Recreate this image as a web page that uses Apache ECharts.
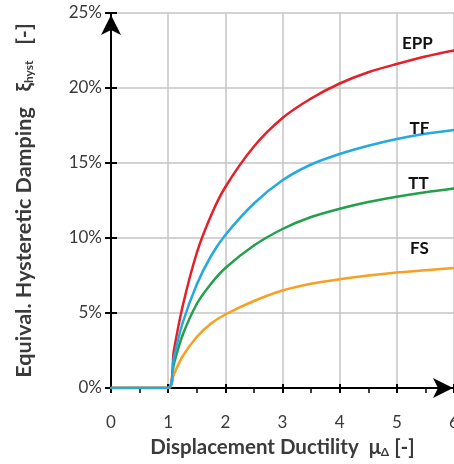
<!DOCTYPE html>
<html>
<head>
<meta charset="utf-8">
<script src="https://cdn.jsdelivr.net/npm/echarts@6/dist/echarts.min.js"></script>
<style>
  html, body { margin: 0; padding: 0; background: #fff; }
  #chart { width: 454px; height: 464px; }
</style>
</head>
<body>
<div id="chart"></div>
<script>
// Displacement ductility (x) and equivalent hysteretic damping in % (y)
const ductility = [0, 1, 1.1, 1.25, 1.5, 1.75, 2, 2.5, 3, 3.5, 4, 4.5, 5, 5.5, 6];
const dampingEPP = [0, 0, 2.5, 5.4, 9.0, 11.5, 13.4, 16.1, 18.0, 19.3, 20.3, 21.05, 21.6, 22.1, 22.5];
const dampingTF  = [0, 0, 2.0, 4.3, 6.9, 8.8, 10.2, 12.3, 13.85, 14.9, 15.6, 16.15, 16.6, 16.95, 17.2];
const dampingTT  = [0, 0, 1.6, 3.5, 5.6, 6.95, 8.0, 9.5, 10.6, 11.4, 11.95, 12.4, 12.75, 13.05, 13.3];
const dampingFS  = [0, 0, 0.9, 2.1, 3.4, 4.3, 4.9, 5.8, 6.5, 6.95, 7.25, 7.5, 7.7, 7.85, 8.0];
const seriesNames = ['EPP', 'TT', 'FS', 'TF'];
const xTicks = [0, 1, 2, 3, 4, 5, 6];
const yTicks = [0, 5, 10, 15, 20, 25];

const FONT = 'Lato';
const TEXT = '#3a3a3a';

// curve names are anchored to the point at mu = 5.5 and shifted by a few pixels
const labelIndex = ductility.indexOf(5.5);
const labelShift = { EPP: [-8, -13], TF: [-6, -5], TT: [-7, -9], FS: [-6, -22] };

function buildSeries(name, values, color) {
  const data = ductility.map((x, i) => {
    const point = { value: [x, values[i]] };
    if (i === labelIndex) {
      const s = labelShift[name];
      point.label = {
        show: true, formatter: name,
        position: [1 + s[0], 1 + s[1]], align: 'center', verticalAlign: 'middle',
        fontFamily: FONT, fontWeight: 'bold', fontSize: 17, color: '#111'
      };
    }
    return point;
  });
  return {
    name, type: 'line', data,
    smooth: 0.3,
    symbol: 'circle', symbolSize: 2, showSymbol: true, showAllSymbol: true,
    itemStyle: { color },
    lineStyle: { color, width: 2.5 },
    labelLayout: { hideOverlap: false },
    emphasis: { disabled: true },
    xAxisIndex: 0, yAxisIndex: 0
  };
}

const colors = { EPP: '#e4202a', TF: '#26a9e0', TT: '#22a04b', FS: '#f7a024' };
const valuesByName = { EPP: dampingEPP, TF: dampingTF, TT: dampingTT, FS: dampingFS };

const chart = echarts.init(document.getElementById('chart'), null, { renderer: 'canvas' });

const xBase = { type: 'value', min: xTicks[0], max: xTicks[xTicks.length - 1], interval: 1 };
const yBase = { type: 'value', min: yTicks[0], max: yTicks[yTicks.length - 1], interval: 5 };

chart.setOption({
  animation: false,
  backgroundColor: '#fff',
  grid: { left: 111, right: 0, top: 13, bottom: 76, containLabel: false, outerBoundsMode: 'none' },
  xAxis: [
    Object.assign({}, xBase, {
      name: 'Displacement Ductility  {mu|μ}{sub|Δ} [-]',
      nameLocation: 'middle', nameGap: 49,
      nameTextStyle: {
        fontFamily: FONT, fontWeight: 'bold', fontSize: 20.5, color: TEXT,
        rich: {
          mu: { fontFamily: FONT, fontSize: 20, fontWeight: 'bold', color: TEXT },
          sub: { fontFamily: FONT, fontSize: 12, fontWeight: 'bold', color: TEXT, verticalAlign: 'bottom', padding: [8, 0, 0, 0] }
        }
      },
      axisLine: { show: true, lineStyle: { color: '#000', width: 2 }, symbol: ['none', 'arrow'], symbolSize: [15, 20], symbolOffset: [0, -1] },
      axisTick: { show: true, length: 5, lineStyle: { color: '#000', width: 2 } },
      minorTick: { show: true, splitNumber: 2, length: 5, lineStyle: { color: '#000', width: 1.5 } },
      axisLabel: { margin: 26, fontFamily: FONT, fontSize: 17, color: TEXT },
      splitLine: { show: true, lineStyle: { color: '#c4c4c4', width: 1.5 } }
    }),
    Object.assign({}, xBase, {
      position: 'bottom',
      axisLine: { show: false },
      axisTick: { show: true, inside: true, length: 4, lineStyle: { color: '#000', width: 2 } },
      axisLabel: { show: false }, splitLine: { show: false }
    })
  ],
  yAxis: [
    Object.assign({}, yBase, {
      name: 'Equival. Hysteretic Damping   {xi|ξ}{sub|hyst}   [-]',
      nameLocation: 'middle', nameGap: 76, nameRotate: 90,
      nameTextStyle: {
        fontFamily: FONT, fontWeight: 'bold', fontSize: 21.5, color: TEXT,
        rich: {
          xi: { fontFamily: FONT, fontSize: 21, fontWeight: 'bold', color: TEXT },
          sub: { fontFamily: FONT, fontSize: 12, fontWeight: 'bold', color: TEXT, verticalAlign: 'bottom', padding: [8, 0, 0, 0] }
        }
      },
      axisLine: { show: true, lineStyle: { color: '#000', width: 2 }, symbol: ['none', 'arrow'], symbolSize: [15, 20], symbolOffset: [0, -2] },
      axisTick: { show: true, length: 6, lineStyle: { color: '#000', width: 2 } },
      axisLabel: { margin: 9, fontFamily: FONT, fontSize: 17, color: TEXT, formatter: v => v + '%' },
      splitLine: { show: true, lineStyle: { color: '#c4c4c4', width: 1.5 } }
    }),
    Object.assign({}, yBase, {
      position: 'left',
      axisLine: { show: false },
      axisTick: { show: true, inside: true, length: 6, lineStyle: { color: '#000', width: 2 } },
      axisLabel: { show: false }, splitLine: { show: false }
    })
  ],
  series: seriesNames.map(n => buildSeries(n, valuesByName[n], colors[n]))
});
</script>
</body>
</html>
